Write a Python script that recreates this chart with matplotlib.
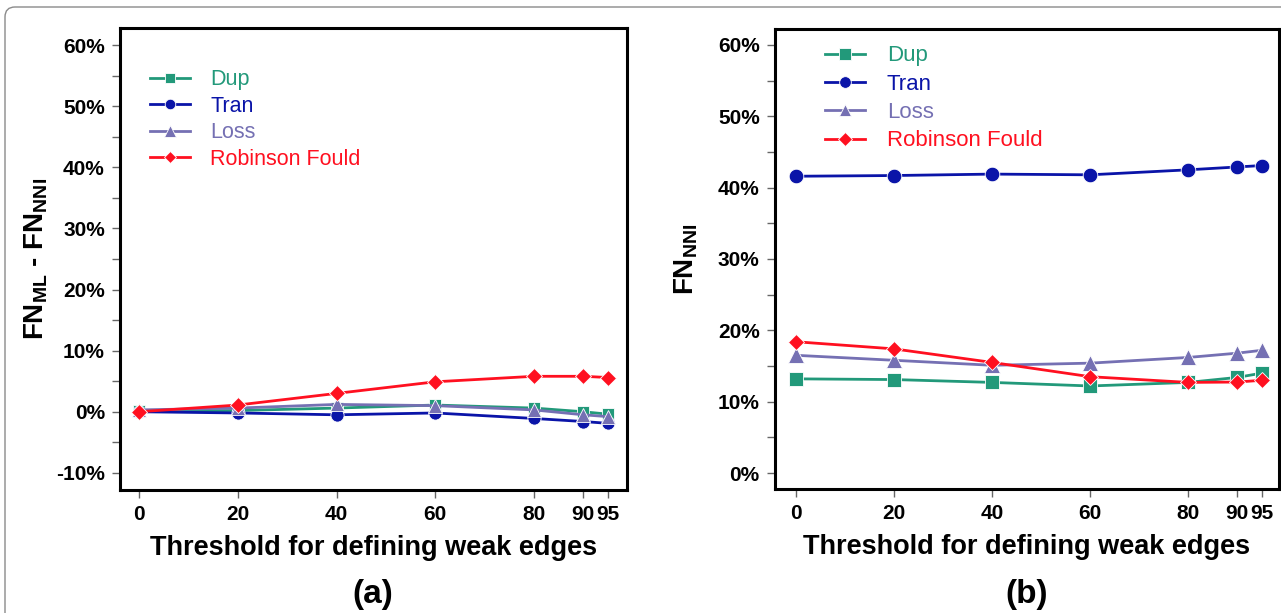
"""
FN difference (ML vs NNI) and FN of NNI versus the weak-edge threshold
"""

import matplotlib
matplotlib.use("Agg")
import matplotlib.pyplot as plt
from matplotlib.patches import FancyBboxPatch
from matplotlib.ticker import FuncFormatter, MultipleLocator
from matplotlib.transforms import IdentityTransform

plt.rcParams['font.family'] = ['Liberation Sans', 'DejaVu Sans']
plt.rcParams['mathtext.fontset'] = 'custom'
plt.rcParams['mathtext.rm'] = 'Liberation Sans:bold'
plt.rcParams['mathtext.bf'] = 'Liberation Sans:bold'
plt.rcParams['mathtext.it'] = 'Liberation Sans:bold'

# x positions (threshold %)
thresholds = [0, 20, 40, 60, 80, 90, 95]
series_names = ['Dup', 'Tran', 'Loss', 'Robinson Fould']

# (a) FN_ML - FN_NNI, in %
diff_dup = [0.1, 0.2, 0.6, 1.1, 0.6, 0.0, -0.4]
diff_tran = [0.0, -0.2, -0.5, -0.2, -1.1, -1.6, -1.9]
diff_loss = [0.3, 0.6, 1.2, 1.0, 0.3, -0.5, -0.8]
diff_rf = [0.0, 1.1, 3.0, 4.9, 5.8, 5.8, 5.6]

# (b) FN_NNI, in %
nni_dup = [13.2, 13.1, 12.7, 12.2, 12.7, 13.4, 14.0]
nni_tran = [41.6, 41.7, 41.9, 41.8, 42.5, 42.9, 43.1]
nni_loss = [16.5, 15.8, 15.1, 15.4, 16.2, 16.8, 17.2]
nni_rf = [18.4, 17.4, 15.5, 13.5, 12.7, 12.75, 13.0]

colors = ['#22997a', '#0a14a8', '#7570b3', '#ff1020']
markers = ['s', 'o', '^', 'D']


def style_axes(ax, ylim, xlim, major_step):
    ax.set_xlim(*xlim)
    ax.set_ylim(*ylim)
    ax.set_xticks(thresholds)
    ax.yaxis.set_major_locator(MultipleLocator(major_step))
    ax.yaxis.set_minor_locator(MultipleLocator(major_step / 2))
    ax.yaxis.set_major_formatter(FuncFormatter(lambda v, p: f"{v:.0f}%"))
    for s in ax.spines.values():
        s.set_linewidth(2.2)
        s.set_color('black')
    ax.tick_params(axis='both', which='both', direction='out', length=6,
                   width=1, color='#666666', labelsize=15, pad=5)
    ax.tick_params(axis='y', which='minor', length=6)
    for lab in ax.get_xticklabels() + ax.get_yticklabels():
        lab.set_fontweight('bold')
    ax.set_xlabel('Threshold for defining weak edges', fontsize=19.5,
                  fontweight='bold', labelpad=8)


def draw_lines(ax, data, sizes):
    handles = []
    for vals, name, c, m, ms in zip(data, series_names, colors, markers, sizes):
        h, = ax.plot(thresholds, vals, color=c, marker=m, markersize=ms,
                     linewidth=2, markeredgecolor='white', markeredgewidth=0.6,
                     label=name, clip_on=False)
        handles.append(h)
    return handles


fig = plt.figure(figsize=(12.81, 6.13), dpi=100)

ax1 = fig.add_axes([0.0937, 0.2007, 0.3958, 0.7537])
ax2 = fig.add_axes([0.6050, 0.2023, 0.3934, 0.7504])

draw_lines(ax1, [diff_dup, diff_tran, diff_loss, diff_rf], [9, 9.5, 10, 8])
style_axes(ax1, (-12.8, 62.8), (-3.85, 98.85), 10)
ax1.set_ylabel(r'FN$_{ML}$ - FN$_{NNI}$', fontsize=20, fontweight='bold',
               labelpad=4)

draw_lines(ax2, [nni_dup, nni_tran, nni_loss, nni_rf], [10, 10.5, 11, 8.5])
style_axes(ax2, (-2.24, 62.24), (-4.28, 98.5), 10)
ax2.set_ylabel(r'FN$_{NNI}$', fontsize=20, fontweight='bold', labelpad=13)

leg1 = ax1.legend(loc='upper left', bbox_to_anchor=(0.021, 0.953), frameon=False,
                  fontsize=15.5, handlelength=1.86, handletextpad=0.93,
                  labelspacing=0.26, markerscale=0.8)
leg2 = ax2.legend(loc='upper left', bbox_to_anchor=(0.059, 1.008), frameon=False,
                  fontsize=16, handlelength=1.8, handletextpad=1.0,
                  labelspacing=0.33, markerscale=0.8)
for leg in (leg1, leg2):
    for txt, c in zip(leg.get_texts(), colors):
        txt.set_color(c)

fig.text(373 / 1281, 1 - 594 / 613, '(a)', fontsize=24, fontweight='bold',
         ha='center', va='center')
fig.text(1027 / 1281, 1 - 594 / 613, '(b)', fontsize=24, fontweight='bold',
         ha='center', va='center')

# rounded frame around the whole figure
frame = FancyBboxPatch((5, -40), 1320, 606 + 40, boxstyle='round,pad=0,rounding_size=10',
                       transform=IdentityTransform(), facecolor='none',
                       edgecolor='#8a8a8a', linewidth=1)
fig.add_artist(frame)

fig.savefig('out.png', dpi=100)
